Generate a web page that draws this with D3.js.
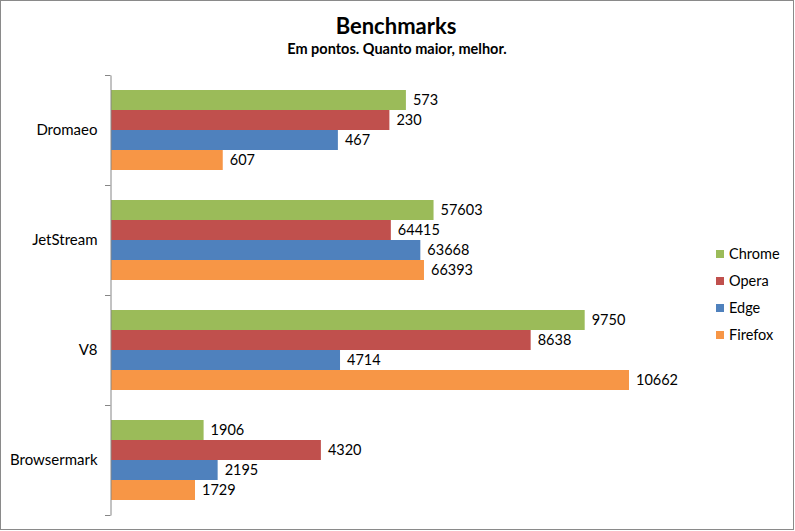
<!DOCTYPE html>
<html><head><meta charset="utf-8">
<script src="https://cdn.jsdelivr.net/npm/d3@7/dist/d3.min.js"></script>
<style>body{margin:0;background:#fff}svg{display:block}text{font-family:Lato,"Open Sans",sans-serif}</style>
</head><body>
<script>
const categories = ["Dromaeo", "JetStream", "V8", "Browsermark"];
const seriesNames = ["Chrome", "Opera", "Edge", "Firefox"];
const seriesColors = ["#9BBB59", "#C0504D", "#4F81BD", "#F79646"];
// bar lengths (in axis units, as plotted)
const chromeBars  = [6070, 6639, 9750, 1906];
const operaBars   = [5730, 5760, 8638, 4320];
const edgeBars    = [4670, 6367, 4714, 2195];
const firefoxBars = [2300, 6442, 10662, 1729];
// data labels as shown
const chromeLabels  = ["573", "57603", "9750", "1906"];
const operaLabels   = ["230", "64415", "8638", "4320"];
const edgeLabels    = ["467", "63668", "4714", "2195"];
const firefoxLabels = ["607", "66393", "10662", "1729"];
const xMax = 12000;

const bars = [chromeBars, operaBars, edgeBars, firefoxBars];
const labels = [chromeLabels, operaLabels, edgeLabels, firefoxLabels];

const W = 795, H = 531;
const svg = d3.select("body").append("svg").attr("width", W).attr("height", H);
svg.append("rect").attr("x", 0.5).attr("y", 0.5).attr("width", W - 2).attr("height", H - 2)
  .attr("fill", "#fff").attr("stroke", "#8a8a8a");

svg.append("text").attr("x", 396).attr("y", 34).attr("text-anchor", "middle")
  .attr("font-size", 22).attr("font-weight", "bold").attr("fill", "#000").text("Benchmarks");
svg.append("text").attr("x", 397).attr("y", 54).attr("text-anchor", "middle")
  .attr("font-size", 14.5).attr("font-weight", "bold").attr("fill", "#000").text("Em pontos. Quanto maior, melhor.");

const x0 = 111;
const x = d3.scaleLinear().domain([0, xMax]).range([x0, 694]);
const y = d3.scaleBand().domain(categories).range([75, 515]).padding(0);
const ys = d3.scaleBand().domain(seriesNames).range([15, 95]).padding(0);

const g = svg.append("g");
categories.forEach((c, ci) => {
  seriesNames.forEach((s, si) => {
    const v = bars[si][ci];
    const yy = y(c) + ys(s);
    g.append("rect").attr("x", x(0)).attr("y", yy).attr("width", x(v) - x(0))
      .attr("height", ys.bandwidth()).attr("fill", seriesColors[si]);
    g.append("text").attr("x", x(v) + 7).attr("y", yy + ys.bandwidth() / 2)
      .attr("dy", "0.36em").attr("font-size", 14.5).attr("fill", "#000").text(labels[si][ci]);
  });
});

const axis = d3.axisLeft(y).tickSize(0).tickPadding(13);
const ag = svg.append("g").attr("transform", `translate(${x0 - 0.5},0)`).call(axis);
ag.select(".domain").attr("stroke", "#868686");
ag.selectAll(".tick text").attr("font-size", 15).attr("fill", "#000")
  .style("font-family", "Lato, 'Open Sans', sans-serif");
// category separator ticks
const tickPos = categories.map(c => y(c)).concat([y.range()[1]]);
svg.append("g").selectAll("line").data(tickPos).join("line")
  .attr("x1", x0 - 6).attr("x2", x0 - 0.5).attr("y1", d => Math.round(d) + 0.5).attr("y2", d => Math.round(d) + 0.5)
  .attr("stroke", "#868686");

const lg = svg.append("g");
seriesNames.forEach((s, i) => {
  const cy = 254 + i * 27;
  lg.append("rect").attr("x", 716).attr("y", cy - 4).attr("width", 8).attr("height", 8).attr("fill", seriesColors[i]);
  lg.append("text").attr("x", 729).attr("y", cy).attr("dy", "0.36em").attr("font-size", 14.5).attr("fill", "#000").text(s);
});
</script>
</body></html>
